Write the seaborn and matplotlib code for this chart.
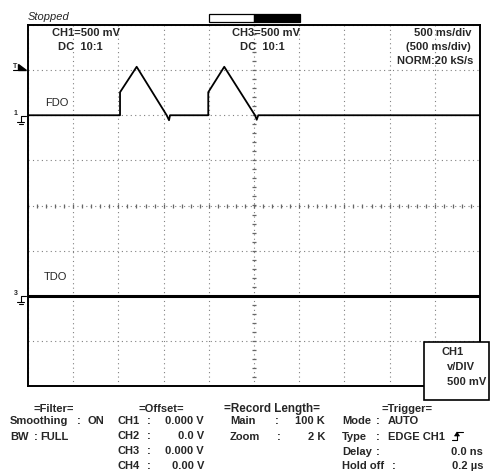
import numpy as np
import matplotlib
matplotlib.use('Agg')
import matplotlib.pyplot as plt
import seaborn as sns
from matplotlib.patches import Rectangle, Polygon
from matplotlib.lines import Line2D

# scope settings
volts_per_div = 0.5      # 500 mV/div
sec_per_div = 0.5        # 500 ms/div
ch1_ground_div = 2       # ground marker positions in divisions from centre
ch3_ground_div = -2

# FDO trace (CH1), time in s, volts relative to ground
fdo_t = [0.0, 1.018, 1.018, 1.202, 1.534, 1.560, 1.571, 1.994, 1.994, 2.171, 2.511, 2.530, 2.547, 5.0]
fdo_v = [0.0, 0.0, 0.255, 0.537, 0.0, -0.055, 0.0, 0.0, 0.255, 0.537, 0.0, -0.05, 0.0, 0.0]

# TDO trace (CH3), flat
tdo_t = [0.0, 5.0]
tdo_v = [0.0, 0.0]

offset_ch = ['CH1', 'CH2', 'CH3', 'CH4']
offset_val = ['0.000 V', '0.0 V', '0.000 V', '0.00 V']

sns.set_style('white')
plt.rcParams['font.family'] = ['Liberation Sans', 'DejaVu Sans']

W, H = 501, 473
fig = plt.figure(figsize=(W / 100, H / 100), dpi=100)

def fx(x):
    return x / W

def fy(y):
    return 1 - y / H

# plot area in pixels: x 28..480, y 25..386
ax = fig.add_axes([fx(28), fy(386), (480 - 28) / W, (386 - 25) / H])
ax.set_xlim(0, 10 * sec_per_div)
ax.set_ylim(-4, 4)
ax.set_xticks(np.arange(0, 5.01, sec_per_div))
ax.set_yticks(np.arange(-4, 4.01, 1))
ax.grid(True, linestyle=(0, (1, 3)), color='0.5', lw=0.8)
ax.tick_params(length=0, labelbottom=False, labelleft=False)
for s in ax.spines.values():
    s.set_linewidth(1.4)
    s.set_color('black')

# centre graticule ticks
cx = np.arange(0, 5.001, sec_per_div / 5)
ax.plot(cx, np.zeros_like(cx), ls='none', marker='|', ms=2.5, mew=0.9, color='0.4')
cy = np.arange(-4, 4.001, 0.2)
ax.plot(np.full_like(cy, 2.5), cy, ls='none', marker='_', ms=2.5, mew=0.9, color='0.4')

fdo_y = [v / volts_per_div + ch1_ground_div for v in fdo_v]
tdo_y = [v / volts_per_div + ch3_ground_div for v in tdo_v]
sns.lineplot(x=fdo_t, y=fdo_y, ax=ax, color='black', lw=1.3, sort=False, estimator=None)
sns.lineplot(x=tdo_t, y=tdo_y, ax=ax, color='black', lw=2.2, sort=False, estimator=None)
ax.set_xlabel('')
ax.set_ylabel('')

def t(x, y, s, ha='left', bold=True, size=8, style='normal'):
    fig.text(fx(x), fy(y), s, ha=ha, va='center', fontsize=size,
             fontweight='bold' if bold else 'normal', style=style)

def fline(xs, ys, lw=0.8):
    fig.add_artist(Line2D([fx(v) for v in xs], [fy(v) for v in ys],
                          transform=fig.transFigure, color='black', lw=lw))

# header
t(28, 17, 'Stopped', bold=False, style='italic')
fig.add_artist(Rectangle((fx(209), fy(22)), 45 / W, 8 / H, transform=fig.transFigure,
                         facecolor='white', edgecolor='black', lw=0.9))
fig.add_artist(Rectangle((fx(254), fy(22)), 46 / W, 8 / H, transform=fig.transFigure,
                         facecolor='black', edgecolor='black', lw=0.9))

t(52, 33, 'CH1=500 mV')
t(58, 47, 'DC  10:1')
t(232, 33, 'CH3=500 mV')
t(240, 47, 'DC  10:1')
t(472, 33, '500 ms/div', ha='right')
t(471, 47, '(500 ms/div)', ha='right')
t(473, 61, 'NORM:20 kS/s', ha='right')

t(45, 103, 'FDO', bold=False)
t(44, 277, 'TDO', bold=False)

# trigger marker
t(13, 66, 'T', size=5)
fline([13, 18], [70, 70])
fig.add_artist(Polygon([(fx(18), fy(64)), (fx(18), fy(70)), (fx(26), fy(70))], closed=True,
                       transform=fig.transFigure, facecolor='black', edgecolor='black'))

# ground markers
for label, yg in (('1', 116), ('3', 296)):
    t(14, yg - 3, label, size=5)
    fline([26, 20.5, 20.5], [yg, yg, yg + 6])
    fline([17, 24], [yg + 6, yg + 6])
    fline([18.5, 22.5], [yg + 8, yg + 8])

# CH1 v/DIV box
fig.add_artist(Rectangle((fx(424), fy(400)), 65 / W, 58 / H, transform=fig.transFigure,
                         facecolor='white', edgecolor='black', lw=1.2))
t(442, 352, 'CH1')
t(447, 367, 'v/DIV')
t(447, 382, '500 mV')

# bottom status block
t(54, 409, '=Filter=', ha='center')
t(10, 421, 'Smoothing')
t(77, 421, ':')
t(87, 421, 'ON')
t(10, 437, 'BW')
t(34, 437, ':')
t(40, 437, 'FULL')

t(161, 409, '=Offset=', ha='center')
for i, (c, v) in enumerate(zip(offset_ch, offset_val)):
    y = 421 + i * 15
    t(118, y, c)
    t(147, y, ':')
    t(204, y, v, ha='right')

t(272, 409, '=Record Length=', ha='center', size=8.4)
t(230, 421, 'Main')
t(275, 421, ':')
t(325, 421, '100 K', ha='right')
t(230, 437, 'Zoom')
t(277, 437, ':')
t(325, 437, '2 K', ha='right')

t(407, 409, '=Trigger=', ha='center')
t(342, 421, 'Mode')
t(376, 421, ':')
t(388, 421, 'AUTO')
t(342, 437, 'Type')
t(376, 437, ':')
t(388, 437, 'EDGE CH1')
# rising-edge symbol
fline([452, 457, 457, 463], [440, 440, 432, 432])
fig.add_artist(Polygon([(fx(454.5), fy(436)), (fx(457), fy(432)), (fx(459.5), fy(436))], closed=True,
                       transform=fig.transFigure, facecolor='black', edgecolor='black', lw=0.5))
t(342, 452, 'Delay')
t(376, 452, ':')
t(483, 452, '0.0 ns', ha='right')
t(342, 466, 'Hold off')
t(392, 466, ':')
t(483, 466, '0.2 \u00b5s', ha='right')

fig.savefig('out.png', dpi=100)
